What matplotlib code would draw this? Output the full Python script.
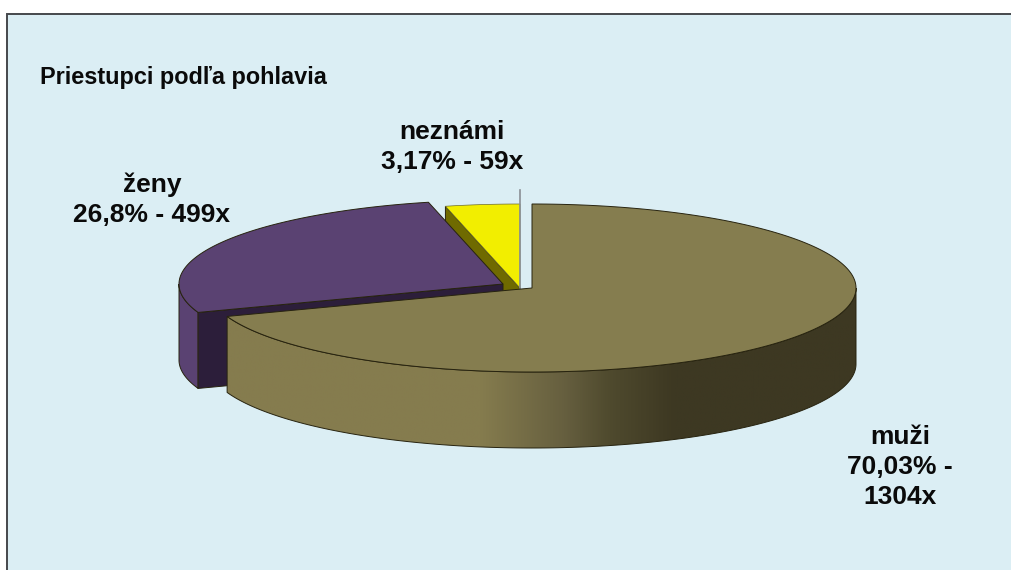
#!/usr/bin/env python3
import numpy as np
import matplotlib
matplotlib.use("Agg")
import matplotlib.pyplot as plt
from matplotlib.colors import LinearSegmentedColormap
from matplotlib.patches import Polygon

plt.rcParams['font.family'] = ['Liberation Sans', 'DejaVu Sans']

title = "Priestupci podľa pohlavia"
categories = ["muži", "ženy", "neznámi"]
counts = [1304, 499, 59]
labels = ["muži\n70,03% -\n1304x", "ženy\n26,8% - 499x", "neznámi\n3,17% - 59x"]

BG = "#dbeef4"
EDGE = "#27230f"
DEPTH = 76
RX, RY = 324, 84
# the drawn pie is slightly distorted by its perspective
ANGLE_SHIFT = 1.9


def arc(cx, cy, t0, t1, dy=0):
  # t in degrees, counterclockwise from 3 o'clock, y axis points down
  t = np.radians(np.linspace(t0, t1, 200))
  return np.column_stack([cx + RX * np.cos(t), cy - RY * np.sin(t) + dy])


def poly(ax, pts, color, z, lw=0.7, edge=EDGE):
  p = Polygon(pts, closed=True, facecolor=color, edgecolor=edge, linewidth=lw, zorder=z)
  ax.add_patch(p)
  return p


def main():
  fig = plt.figure(figsize=(10.12, 5.70), dpi=100, facecolor="white")
  ax = fig.add_axes([0, 0, 1, 1])
  ax.set_xlim(0, 1012)
  ax.set_ylim(570, 0)
  ax.axis("off")

  # panel
  ax.add_patch(Polygon([(7, 14), (1012, 14), (1012, 570), (7, 570)], facecolor=BG, edgecolor="none", zorder=0))
  ax.plot([7, 7, 1012], [570, 14, 14], color="#45484c", lw=1.4, zorder=1, solid_joinstyle="miter")

  # slice boundaries, clockwise from 12 o'clock
  sweep = np.cumsum(counts) / np.sum(counts) * 360
  men_end = 90 - sweep[0] + 360 + ANGLE_SHIFT
  women_end = 90 - sweep[1] + 360 + ANGLE_SHIFT

  # neznami
  cx, cy = 520, 288
  top = arc(cx, cy, 90, women_end)
  left = top[-1]
  apex = np.array([cx, cy])
  poly(ax, [left, left + [0, DEPTH], apex + [0, DEPTH], apex], "#6f6a00", 2)
  poly(ax, np.vstack([[apex], top]), "#f2ee00", 3, lw=0.5, edge="#6b6a30")
  ax.plot([cx, cx], [190, cy], color="#8a8f94", lw=1.2, zorder=4)

  # zeny
  cx, cy = 503, 284
  apex = np.array([cx, cy])
  top = arc(cx, cy, women_end, men_end)
  wall_top = arc(cx, cy, 180, men_end)
  wall = np.vstack([wall_top, wall_top[::-1] + [0, DEPTH]])
  poly(ax, wall, "#5a4272", 5)
  corner = top[-1]
  poly(ax, [corner, corner + [0, DEPTH], apex + [0, DEPTH], apex], "#2c1e3a", 6)
  poly(ax, np.vstack([[apex], top]), "#5a4272", 7)

  # muzi
  cx, cy = 532, 288
  apex = np.array([cx, cy])
  wall_top = arc(cx, cy, men_end, 360)
  wall_pts = np.vstack([wall_top, wall_top[::-1] + [0, DEPTH]])
  wall = poly(ax, wall_pts, "none", 9)
  stops = [(0.0, "#857c4e"), (0.42, "#857c4e"), (0.55, "#665f3f"), (0.62, "#4f4a2e"),
           (0.72, "#3d3822"), (1.0, "#3d3822")]
  cmap = LinearSegmentedColormap.from_list("wall", stops)
  im = ax.imshow(np.linspace(0, 1, 256)[None, :], cmap=cmap, aspect="auto",
                 extent=(cx - RX, cx + RX, cy + RY + DEPTH, cy - RY), zorder=8)
  im.set_clip_path(wall)
  ax.set_xlim(0, 1012)
  ax.set_ylim(570, 0)
  top = arc(cx, cy, men_end, 450)
  poly(ax, np.vstack([[apex], top]), "#857d4f", 10)

  # texts
  ax.text(40, 84, title, fontsize=16.9, fontweight="bold", color="#0a0a0a", va="baseline", ha="left", zorder=20)
  label_pos = [(900, 467), (152, 200), (452, 147)]
  for lab, (x, y) in zip(labels, label_pos):
    ax.text(x, y, lab, fontsize=19, fontweight="bold", color="#0a0a0a", ha="center", va="center",
            linespacing=1.34, zorder=20)

  fig.savefig("out.png", dpi=100)


main()
